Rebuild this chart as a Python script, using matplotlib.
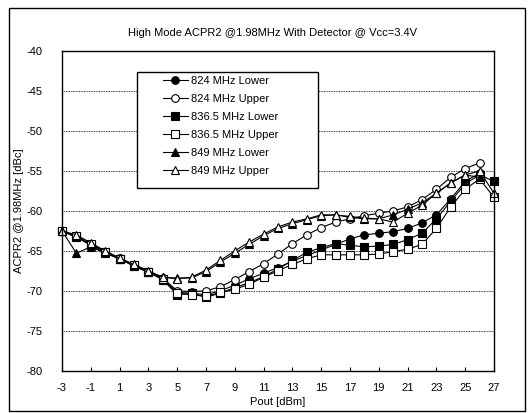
import matplotlib
matplotlib.use("Agg")
import matplotlib.pyplot as plt
from matplotlib.patches import Rectangle

plt.rcParams["font.family"] = ["Liberation Sans", "DejaVu Sans"]
plt.rcParams["axes.unicode_minus"] = False

# Pout [dBm]
pout = [-3, -2, -1, 0, 1, 2, 3, 4, 5, 6, 7, 8, 9, 10, 11, 12, 13, 14, 15,
        16, 17, 18, 19, 20, 21, 22, 23, 24, 25, 26, 27]

# ACPR2 [dBc]
acpr_824_lower = [-62.5, -63.3, -64.2, -65.2, -66.0, -66.8, -67.6, -68.5, -70.2, -70.3,
                  -70.5, -70.0, -69.3, -68.5, -67.8, -67.1, -66.3, -65.6, -64.9, -64.2,
                  -63.5, -63.0, -62.8, -62.6, -62.2, -61.5, -60.5, -58.5, -56.3, -55.3, None]
acpr_824_upper = [-62.5, -63.2, -64.1, -65.1, -65.9, -66.8, -67.6, -68.4, -70.0, -70.1,
                  -70.0, -69.5, -68.6, -67.6, -66.6, -65.4, -64.1, -63.0, -62.1, -61.4,
                  -61.0, -60.6, -60.3, -60.0, -59.5, -58.6, -57.3, -55.8, -54.7, -54.0, None]
acpr_836_lower = [-62.5, -63.3, -64.3, -65.2, -66.0, -66.9, -67.7, -68.6, -70.5, -70.3,
                  -70.8, -70.3, -69.6, -69.0, -68.2, -67.3, -66.2, -65.2, -64.6, -64.1,
                  -64.3, -64.5, -64.4, -64.2, -63.6, -62.8, -61.0, -58.8, -56.6, -55.5, -56.3]
acpr_836_upper = [-62.5, -63.2, -64.2, -65.1, -66.0, -66.8, -67.6, -68.5, -70.3, -70.5,
                  -70.7, -70.2, -69.8, -69.2, -68.3, -67.5, -66.7, -66.0, -65.5, -65.5,
                  -65.5, -65.5, -65.4, -65.1, -64.8, -64.2, -62.2, -59.5, -57.3, -56.0, -58.3]
acpr_849_lower = [-62.5, -65.3, -64.5, -65.3, -66.0, -66.9, -67.7, -68.3, -68.4, -68.4,
                  -67.6, -66.4, -65.3, -64.2, -63.1, -62.2, -61.6, -61.1, -60.6, -60.5,
                  -60.8, -61.0, -61.0, -60.5, -59.8, -59.0, -57.8, -56.5, -55.5, -55.8, None]
acpr_849_upper = [-62.5, -63.0, -64.0, -65.0, -65.9, -66.7, -67.5, -68.3, -68.5, -68.3,
                  -67.4, -66.2, -65.0, -63.9, -62.9, -62.0, -61.4, -61.0, -60.5, -60.5,
                  -60.7, -60.9, -61.0, -61.4, -60.3, -59.3, -57.8, -56.5, -55.5, -55.0, -57.8]

series = [
    ("824 MHz Lower", acpr_824_lower, "o", "black"),
    ("824 MHz Upper", acpr_824_upper, "o", "white"),
    ("836.5 MHz Lower", acpr_836_lower, "s", "black"),
    ("836.5 MHz Upper", acpr_836_upper, "s", "white"),
    ("849 MHz Lower", acpr_849_lower, "^", "black"),
    ("849 MHz Upper", acpr_849_upper, "^", "white"),
]

fig = plt.figure(figsize=(5.32, 4.13), dpi=100)
ax = fig.add_axes([0.1165, 0.1024, 0.812, 0.774])

# outer chart frame
fig.patches.append(Rectangle((9 / 532, 2 / 413), 516 / 532, 403 / 413,
                             transform=fig.transFigure, fill=False,
                             edgecolor="black", linewidth=1.0))

for label, vals, mk, face in series:
    xs = [x for x, v in zip(pout, vals) if v is not None]
    ys = [v for v in vals if v is not None]
    ax.plot(xs, ys, color="black", linewidth=0.8, marker=mk, markersize=5.5,
            markerfacecolor=face, markeredgecolor="black", markeredgewidth=0.8,
            label=label, clip_on=False)

ax.set_xlim(-3, 27)
ax.set_ylim(-80, -40)
ax.set_xticks(range(-3, 28, 2))
ax.set_yticks(range(-80, -39, 5))
ax.tick_params(axis="x", direction="in", length=3, labelsize=8, pad=9)
ax.tick_params(axis="y", length=0, labelsize=8, pad=14)
ax.grid(axis="y", linestyle=(0, (1, 1)), color="black", linewidth=0.6)
for s in ax.spines.values():
    s.set_linewidth(1.0)

ax.set_xlabel("Pout [dBm]", fontsize=8, labelpad=3)
ax.set_ylabel("ACPR2 @1.98MHz [dBc]", fontsize=8, labelpad=2)
fig.text(0.512, 0.92, "High Mode ACPR2 @1.98MHz With Detector @ Vcc=3.4V",
         ha="center", va="center", fontsize=8)

# legend box
ax.add_patch(Rectangle((0.174, 0.571), 0.419, 0.363, transform=ax.transAxes,
                       facecolor="white", edgecolor="black", linewidth=1.0, zorder=5))
leg = ax.legend(loc="upper left", bbox_to_anchor=(0.225, 0.934), frameon=False,
                fontsize=8, labelspacing=0.72, handlelength=2.2, handletextpad=0.3,
                borderpad=0.35, borderaxespad=0)
leg.set_zorder(6)

plt.savefig("out.png", dpi=100)
